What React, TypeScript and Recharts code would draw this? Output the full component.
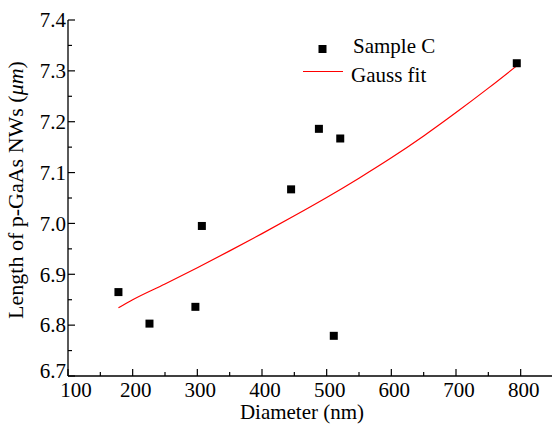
import React from 'react';
import { ScatterChart, Scatter, XAxis, YAxis } from 'recharts';

const DIAMETER_NM = [178, 226, 297, 307, 445, 488, 511, 521, 794];
const LENGTH_UM = [6.865, 6.803, 6.836, 6.995, 7.067, 7.186, 6.779, 7.167, 7.315];

const FIT_DIAMETER = [178, 200, 250, 300, 350, 400, 450, 500, 550, 600, 650, 700, 750, 794];
const FIT_LENGTH = [6.834, 6.85, 6.881, 6.913, 6.946, 6.98, 7.015, 7.051, 7.089, 7.129, 7.172, 7.218, 7.266, 7.31];

const X_TICKS = [100, 150, 200, 250, 300, 350, 400, 450, 500, 550, 600, 650, 700, 750, 800, 850];
const X_LABELS = [100, 200, 300, 400, 500, 600, 700, 800];
const Y_TICKS = [6.7, 6.75, 6.8, 6.85, 6.9, 6.95, 7.0, 7.05, 7.1, 7.15, 7.2, 7.25, 7.3, 7.35, 7.4];
const Y_LABELS = ['6.7', '6.8', '6.9', '7.0', '7.1', '7.2', '7.3', '7.4'];

const SERIES_NAME = 'Sample C';
const FIT_NAME = 'Gauss fit';
const X_TITLE = 'Diameter (nm)';

const points = DIAMETER_NM.map((d, i) => ({ x: d, y: LENGTH_UM[i] }));
const fit = FIT_DIAMETER.map((d, i) => ({ x: d, y: FIT_LENGTH[i] }));

const FONT = '"Liberation Serif", "Times New Roman", serif';
const TICK_FS = 21;

const BottomTick = (props: any) => {
  const { x, y, payload } = props;
  const v = payload.value;
  const major = X_LABELS.includes(v);
  const shift = v === 100 ? 8 : 3;
  return (
    <g>
      <line x1={x} x2={x} y1={y} y2={y - (major ? 7 : 4)} stroke="#000" strokeWidth={1.2} />
      {major && (
        <text x={x + shift} y={y + 21} textAnchor="middle" fontFamily={FONT} fontSize={TICK_FS} fill="#000">
          {v}
        </text>
      )}
    </g>
  );
};

const TopTick = (props: any) => {
  const { x, y } = props;
  return <line x1={x} x2={x} y1={y} y2={y + 3} stroke="#555" strokeWidth={1} />;
};

const LeftTick = (props: any) => {
  const { x, y, payload } = props;
  const v = payload.value;
  const label = v.toFixed(1);
  const major = Math.round(v * 100) % 10 === 0 && Y_LABELS.includes(label);
  const dyShift = label === '6.7' ? -5 : 0;
  return (
    <g>
      <line x1={x} x2={x + (major ? 7 : 4)} y1={y} y2={y} stroke="#000" strokeWidth={1.2} />
      {major && (
        <text x={x - 2} y={y + dyShift} dy="0.35em" textAnchor="end" fontFamily={FONT} fontSize={TICK_FS} fill="#000">
          {label}
        </text>
      )}
    </g>
  );
};

const Square = (props: any) => {
  const { cx, cy } = props;
  return <rect x={cx - 4} y={cy - 4} width={8} height={8} fill="#000" />;
};

const Empty = () => <g />;

export default function App() {
  return (
    <div style={{ position: 'absolute', left: 0, top: 0, width: 552, height: 426, overflow: 'hidden', background: '#fff' }}>
      <ScatterChart width={556} height={426} margin={{ top: 20, right: 3, bottom: 0, left: 0 }}>
        <XAxis
          xAxisId="b"
          type="number"
          dataKey="x"
          domain={[100, 850]}
          ticks={X_TICKS}
          interval={0}
          allowDataOverflow
          tickLine={false}
          tickSize={0}
          tickMargin={0}
          height={50}
          axisLine={{ stroke: '#000', strokeWidth: 1.3 }}
          tick={<BottomTick />}
        />
        <XAxis
          xAxisId="t"
          orientation="top"
          type="number"
          dataKey="x"
          domain={[100, 850]}
          ticks={X_TICKS}
          interval={0}
          allowDataOverflow
          tickLine={false}
          tickSize={0}
          tickMargin={0}
          height={0}
          axisLine={{ stroke: '#000', strokeWidth: 1.3 }}
          tick={<TopTick />}
        />
        <YAxis
          yAxisId="l"
          type="number"
          dataKey="y"
          domain={[6.7, 7.4]}
          ticks={Y_TICKS}
          interval={0}
          allowDataOverflow
          tickLine={false}
          tickSize={0}
          tickMargin={0}
          width={68}
          axisLine={{ stroke: '#000', strokeWidth: 1.3 }}
          tick={<LeftTick />}
        />
        <Scatter
          xAxisId="b"
          yAxisId="l"
          data={fit}
          line={{ stroke: '#ff0000', strokeWidth: 1.2 }}
          lineJointType="monotoneX"
          shape={<Empty />}
          isAnimationActive={false}
        />
        <Scatter xAxisId="b" yAxisId="l" data={points} shape={<Square />} isAnimationActive={false} />
      </ScatterChart>
      <svg width={552} height={426} style={{ position: 'absolute', left: 0, top: 0, pointerEvents: 'none' }}>
        <rect x={318.5} y={45} width={8} height={8} fill="#000" />
        <text x={353} y={53} fontFamily={FONT} fontSize={21} fill="#000">{SERIES_NAME}</text>
        <line x1={303} x2={343} y1={71.5} y2={71.5} stroke="#ff0000" strokeWidth={1.2} />
        <text x={351} y={82} fontFamily={FONT} fontSize={21} fill="#000">{FIT_NAME}</text>
        <text x={302} y={419} textAnchor="middle" fontFamily={FONT} fontSize={21} fill="#000">{X_TITLE}</text>
        <text
          transform="translate(23, 190) rotate(-90)"
          textAnchor="middle"
          fontFamily={FONT}
          fontSize={22}
          fill="#000"
        >
          Length of p-GaAs NWs (<tspan fontStyle="italic">μm</tspan>)
        </text>
      </svg>
    </div>
  );
}
